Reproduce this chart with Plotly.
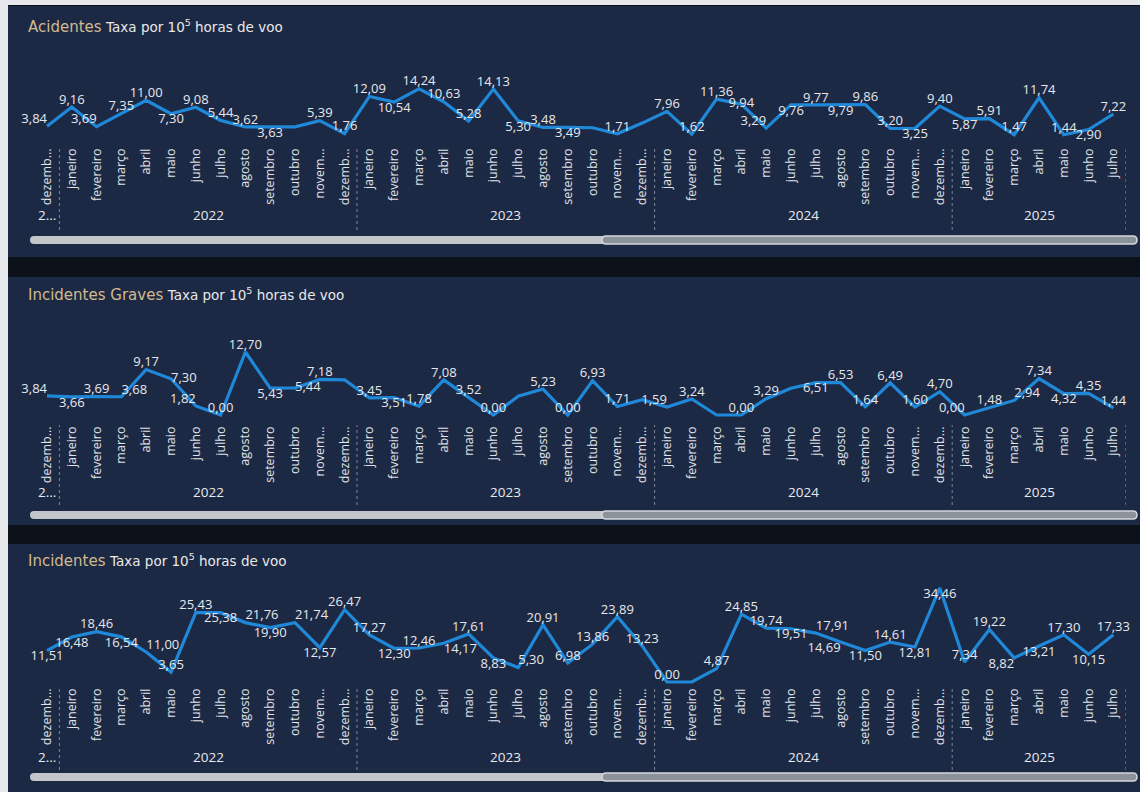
import plotly.graph_objects as go

# ---------------- data ----------------
MESES = ["janeiro", "fevereiro", "março", "abril", "maio", "junho", "julho",
         "agosto", "setembro", "outubro", "novem...", "dezemb..."]
PERIODOS = ["dezemb..."] + MESES * 3 + MESES[:7]
ANOS = ["2...", "2022", "2023", "2024", "2025"]
MESES_POR_ANO = [1, 12, 12, 12, 7]

ACIDENTES = [3.84, 9.16, 3.69, 7.35, 11.00, 7.30, 9.08, 5.44, 3.62, 3.63, 3.65, 5.39, 1.76,
             12.09, 10.54, 14.24, 10.63, 5.28, 14.13, 5.30, 3.48, 3.49, 3.40, 1.71, 4.70,
             7.96, 1.62, 11.36, 9.94, 3.29, 9.76, 9.77, 9.79, 9.86, 3.20, 3.25, 9.40,
             5.87, 5.91, 1.47, 11.74, 1.44, 2.90, 7.22]
GRAVES = [3.84, 3.66, 3.69, 3.68, 9.17, 7.30, 1.82, 0.00, 12.70, 5.43, 5.44, 7.18, 7.10,
          3.45, 3.51, 1.78, 7.08, 3.52, 0.00, 3.80, 5.23, 0.00, 6.93, 1.71, 3.10,
          1.59, 3.24, 0.00, 0.00, 3.29, 5.40, 6.51, 6.53, 1.64, 6.49, 1.60, 4.70,
          0.00, 1.48, 2.94, 7.34, 4.32, 4.35, 1.44]
INCIDENTES = [11.51, 16.48, 18.46, 16.54, 11.00, 3.65, 25.43, 25.38, 21.76, 19.90, 21.74, 12.57, 26.47,
              17.27, 12.30, 12.46, 14.17, 17.61, 8.83, 5.30, 20.91, 6.98, 13.86, 23.89, 13.23,
              0.00, 0.00, 4.87, 24.85, 19.74, 19.51, 17.91, 14.69, 11.50, 14.61, 12.81, 34.46,
              7.34, 19.22, 8.82, 13.21, 17.30, 10.15, 17.33]

TITULOS = ["Acidentes", "Incidentes Graves", "Incidentes"]
SUBTITULO = "Taxa por 10<sup>5</sup> horas de voo"

# ---------------- style / layout ----------------
W, H = 1140, 792
def px(x): return x / W
def py(y): return 1 - y / H

# labels hidden (overlap in the original) and label placement overrides, per panel
OCULTOS = [{10, 22, 24}, {12, 19, 24, 27, 30}, {26}]
B, T = "bottom center", "top center"
POSICAO = [
    {0: "top left", 2: "top left", 5: B, 9: B, 14: B, 19: B, 21: B, 28: "middle center",
     29: "top left", 30: B, 32: B, 35: B, 37: B, 42: B},
    {0: "top left", 1: B, 3: "top right", 5: "middle right", 6: "top left", 9: B,
     10: "middle right", 14: B, 25: "top left", 31: B, 37: "top left", 39: "top right", 41: B},
    {0: B, 1: B, 3: B, 4: "top right", 7: B, 8: "top right", 9: B, 10: "top right", 11: B,
     14: B, 16: "bottom right", 18: B, 19: "top right", 30: B, 31: "top right",
     32: "bottom left", 33: B, 35: B, 36: B, 39: "bottom left", 40: B, 42: B},
]

PANEIS = [
    dict(bg=(6, 257), title=27, dom=(60, 145), zero=140, ppu=3.6, year=215, sep=(148, 230), scroll=240),
    dict(bg=(277, 525), title=295, dom=(325, 423), zero=415, ppu=4.96, year=492, sep=(425, 505), scroll=515),
    dict(bg=(544, 800), title=560, dom=(575, 685), zero=682, ppu=2.73, year=757, sep=(688, 770), scroll=777),
]
SERIES = [ACIDENTES, GRAVES, INCIDENTES]

LINE_COLOR = "#2088d8"
TEXT_COLOR = "#e6e8ec"
PANEL_BG = "#1c2944"
FONT = "Open Sans"

X0_PX, STEP_PX = 47, 24.8
n = len(PERIODOS)
xdom = [px(X0_PX - STEP_PX / 2), px(X0_PX + (n - 0.5) * STEP_PX)]

fig = go.Figure()
shapes, annotations = [], []

# light photo edges
shapes.append(dict(type="rect", xref="paper", yref="paper", x0=0, x1=px(8), y0=0, y1=1,
                   fillcolor="#e6e8ec", line_width=0, layer="below"))
shapes.append(dict(type="rect", xref="paper", yref="paper", x0=0, x1=1, y0=py(5), y1=1,
                   fillcolor="#e6e8ec", line_width=0, layer="below"))


def rrect(x0, y0, x1, y1, r):
    P = lambda x, y: f"{px(x):.5f},{py(y):.5f}"
    return (f"M {P(x0 + r, y0)} L {P(x1 - r, y0)} Q {P(x1, y0)} {P(x1, y0 + r)} "
            f"L {P(x1, y1 - r)} Q {P(x1, y1)} {P(x1 - r, y1)} L {P(x0 + r, y1)} "
            f"Q {P(x0, y1)} {P(x0, y1 - r)} L {P(x0, y0 + r)} Q {P(x0, y0)} {P(x0 + r, y0)} Z")


bounds, centres = [], []
start = 0
for c in MESES_POR_ANO:
    centres.append(start + (c - 1) / 2)
    bounds.append(start + c - 0.5)
    start += c

for k, (p, vals) in enumerate(zip(PANEIS, SERIES)):
    sfx = "" if k == 0 else str(k + 1)
    shapes.append(dict(type="rect", xref="paper", yref="paper", x0=px(8), x1=1.0,
                       y0=max(py(p["bg"][1]), 0), y1=py(p["bg"][0]),
                       fillcolor=PANEL_BG, line_width=0, layer="below"))
    annotations.append(dict(
        xref="paper", yref="paper", x=px(26), y=py(p["title"]), xanchor="left", yanchor="middle",
        showarrow=False,
        text=(f"<span style='color:#d2b98f;font-size:15px'>{TITULOS[k]}</span> "
              f"<span style='font-size:13.5px'>{SUBTITULO}</span>"),
        font=dict(family="DejaVu Sans", size=14, color="#e8e8e8")))

    txt = ["" if i in OCULTOS[k] else f"{v:.2f}".replace(".", ",") for i, v in enumerate(vals)]
    pos = [POSICAO[k].get(i, T) for i in range(n)]

    fig.add_trace(go.Scatter(
        x=list(range(n)), y=vals, mode="lines+text", text=txt, textposition=pos,
        textfont=dict(family=FONT, size=13, color=TEXT_COLOR),
        line=dict(color=LINE_COLOR, width=3.2), cliponaxis=False, showlegend=False,
        xaxis="x" + sfx, yaxis="y" + sfx, hoverinfo="skip"))

    top, bot = p["dom"]
    ylo = (p["zero"] - bot) / p["ppu"]
    yhi = (p["zero"] - top) / p["ppu"]
    fig.layout["xaxis" + sfx] = dict(
        domain=xdom, anchor="y" + sfx, range=[-0.5, n - 0.5],
        tickmode="array", tickvals=list(range(n)), ticktext=PERIODOS, tickangle=-90,
        tickfont=dict(family=FONT, size=12.5, color="#e0e3e8"),
        showgrid=False, zeroline=False, showline=False, ticks="", fixedrange=True)
    fig.layout["yaxis" + sfx] = dict(
        domain=[py(bot), py(top)], anchor="x" + sfx, range=[ylo, yhi], visible=False,
        fixedrange=True)

    for yr, c in zip(ANOS, centres):
        annotations.append(dict(xref="x" + sfx, yref="paper", x=c, y=py(p["year"]),
                                text=yr, showarrow=False, xanchor="center", yanchor="middle",
                                font=dict(family=FONT, size=13.5, color="#e8eaee")))
    for b in bounds:
        shapes.append(dict(type="line", xref="x" + sfx, yref="paper", x0=b, x1=b,
                           y0=py(p["sep"][1]), y1=py(p["sep"][0]),
                           line=dict(color="#7d8696", width=1, dash="dot")))
    sy = p["scroll"]
    shapes.append(dict(type="path", xref="paper", yref="paper",
                       path=rrect(30, sy - 4, 1137, sy + 4, 4),
                       fillcolor="#c2c5c9", line_width=0))
    shapes.append(dict(type="path", xref="paper", yref="paper",
                       path=rrect(602, sy - 4, 1137, sy + 4, 4),
                       fillcolor="#8c929a", line=dict(color="#d4d7da", width=1.5)))

fig.update_layout(
    width=W, height=H, margin=dict(l=0, r=0, t=0, b=0),
    paper_bgcolor="#0d121a", plot_bgcolor="rgba(0,0,0,0)",
    shapes=shapes, annotations=annotations, showlegend=False,
)

fig.write_html("out.html", config={"displayModeBar": False})

# remove the default page margin so the figure fills the window exactly
with open("out.html", encoding="utf-8") as f:
    html = f.read()
html = html.replace("<body>", '<body style="margin:0;padding:0;overflow:hidden">', 1)
with open("out.html", "w", encoding="utf-8") as f:
    f.write(html)
